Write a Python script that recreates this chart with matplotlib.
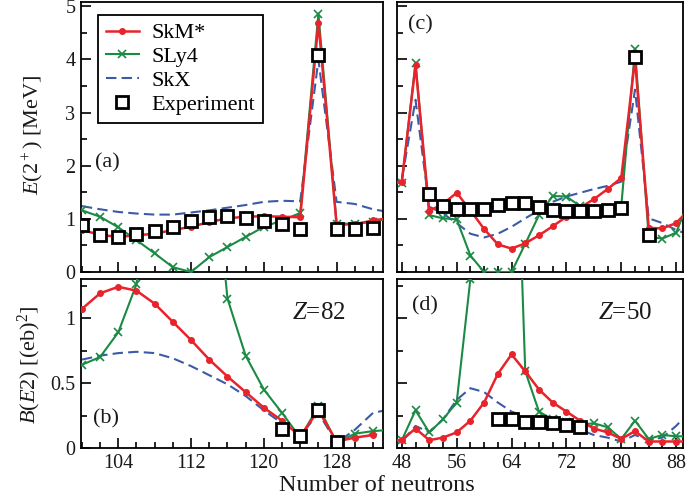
import numpy as np
import matplotlib
matplotlib.use("Agg")
import matplotlib.pyplot as plt
from matplotlib.ticker import MultipleLocator

plt.rcParams['font.family'] = ['Liberation Serif', 'DejaVu Serif']
plt.rcParams['mathtext.fontset'] = 'custom'
plt.rcParams['mathtext.rm'] = 'Liberation Serif'
plt.rcParams['mathtext.it'] = 'Liberation Serif:italic'

# ---- Z = 82 (lead) ----
n82 = np.arange(100, 136, 2)
e82_skm = [0.79, 0.70, 0.66, 0.69, 0.72, 0.79, 0.85, 0.94, 1.01, 1.04, 1.05, 1.04, 1.03, 4.69, 0.89, 0.90, 0.97, 1.02]
e82_sly = [1.16, 1.04, 0.84, 0.60, 0.35, 0.09, 0.00, 0.28, 0.47, 0.66, 0.85, 0.97, 1.11, 4.86, 0.91, 0.91, 0.94, 1.02]
e82_skx = [1.24, 1.18, 1.13, 1.10, 1.08, 1.08, 1.12, 1.16, 1.21, 1.26, 1.32, 1.34, 1.33, 3.99, 1.32, 1.28, 1.18, 1.12]
n82_exp = np.arange(100, 134, 2)
e82_exp = [0.88, 0.70, 0.65, 0.72, 0.77, 0.84, 0.96, 1.04, 1.05, 1.01, 0.96, 0.90, 0.80, 4.08, 0.80, 0.80, 0.83]

b82_skm = [1.07, 1.19, 1.24, 1.21, 1.11, 0.97, 0.83, 0.68, 0.55, 0.43, 0.31, 0.21, 0.09, 0.29, 0.05, 0.08, 0.10, np.nan]
b82_sly = [0.64, 0.70, 0.89, 1.26, 2.50, 3.50, 3.50, 2.60, 1.15, 0.71, 0.45, 0.27, 0.08, 0.32, 0.04, 0.11, 0.13, 0.14]
b82_skx = [0.68, 0.71, 0.73, 0.74, 0.73, 0.69, 0.63, 0.56, 0.49, 0.40, 0.29, 0.19, 0.09, 0.27, 0.04, 0.14, 0.27, 0.30]
n82_bexp = [122, 124, 126, 128]
b82_exp = [0.15, 0.09, 0.29, 0.05]

# ---- Z = 50 (tin) ----
n50 = np.arange(46, 92, 2)
e50_skm = [1.68, 1.70, 3.89, 1.15, 1.28, 1.49, 1.16, 0.81, 0.52, 0.44, 0.54, 0.69, 0.86, 1.04, 1.21, 1.37, 1.56, 1.77, 4.00, 0.83, 0.82, 0.92, 1.19]
e50_sly = [1.66, 1.68, 3.93, 1.07, 1.01, 0.99, 0.31, 0.00, 0.00, 0.00, 0.53, 1.07, 1.43, 1.42, 1.24, 1.18, 1.19, 1.24, 4.19, 0.66, 0.63, 0.74, 1.39]
e50_skx = [1.72, 1.74, 3.24, 1.23, 1.10, 0.92, 0.72, 0.65, 0.72, 0.85, 1.01, 1.16, 1.32, 1.42, 1.49, 1.56, 1.62, 1.70, 3.43, 1.01, 0.92, 0.79, 0.70]
n50_exp = np.arange(52, 86, 2)
e50_exp = [1.46, 1.25, 1.19, 1.19, 1.19, 1.26, 1.30, 1.30, 1.23, 1.16, 1.14, 1.14, 1.14, 1.16, 1.21, 4.04, 0.70]

b50_skm = [0.06, 0.06, 0.15, 0.06, 0.08, 0.12, 0.21, 0.35, 0.57, 0.72, 0.59, 0.45, 0.35, 0.28, 0.21, 0.15, 0.12, 0.07, 0.13, 0.05, 0.05, 0.05, 0.05]
b50_sly = [0.05, 0.06, 0.29, 0.12, 0.22, 0.35, 1.30, 3.50, 3.80, 3.70, 0.59, 0.28, 0.22, 0.20, 0.18, 0.19, 0.16, 0.07, 0.21, 0.07, 0.10, 0.09, 0.09]
b50_skx = [0.05, 0.05, 0.17, 0.12, 0.22, 0.37, 0.46, 0.43, 0.35, 0.28, 0.24, 0.22, 0.20, 0.17, 0.14, 0.10, 0.08, 0.05, 0.10, 0.06, 0.08, 0.17, 0.28]
n50_bexp = np.arange(62, 76, 2)
b50_exp = [0.22, 0.22, 0.20, 0.20, 0.19, 0.18, 0.16]

RED = '#e8232b'
GREEN = '#1b8a44'
BLUE = '#3d5aa8'
TXT = '#1a1a1a'

fig = plt.figure(figsize=(6.89, 5.04), dpi=100)
W, H = 689.0, 504.0
def add_ax(x0, y0, x1, y1):
    return fig.add_axes([x0 / W, 1 - y1 / H, (x1 - x0) / W, (y1 - y0) / H])

ax_a = add_ax(81, 2, 383, 272)
ax_c = add_ax(397, 2, 683, 272)
ax_b = add_ax(81, 279, 383, 448)
ax_d = add_ax(397, 279, 683, 448)


def draw(ax, n, skm, sly, skx, nexp, exp):
    ax.plot(n, skx, color=BLUE, lw=1.5, dashes=(5, 2.5), label='SkX', zorder=2)
    ax.plot(n, sly, color=GREEN, lw=1.5, marker='x', ms=6, mew=1.2, label='SLy4', zorder=3)
    ax.plot(n, skm, color=RED, lw=1.8, marker='o', ms=4, label='SkM*', zorder=4)
    ax.plot(nexp, exp, ls='none', marker='s', ms=8, mfc='white', mec='black', mew=2,
            label='Experiment', zorder=5)


draw(ax_a, n82, e82_skm, e82_sly, e82_skx, n82_exp, e82_exp)
draw(ax_b, n82, b82_skm, b82_sly, b82_skx, n82_bexp, b82_exp)
draw(ax_c, n50, e50_skm, e50_sly, e50_skx, n50_exp, e50_exp)
draw(ax_d, n50, b50_skm, b50_sly, b50_skx, n50_bexp, b50_exp)

for ax in (ax_a, ax_b):
    ax.set_xlim(99.9, 133.1)
    ax.xaxis.set_major_locator(MultipleLocator(8))
    ax.xaxis.set_minor_locator(MultipleLocator(2))
for ax in (ax_c, ax_d):
    ax.set_xlim(47.3, 89.0)
    ax.xaxis.set_major_locator(MultipleLocator(8))
    ax.xaxis.set_minor_locator(MultipleLocator(2))
for ax in (ax_a, ax_c):
    ax.set_ylim(0, 5.08)
    ax.yaxis.set_major_locator(MultipleLocator(1))
    ax.yaxis.set_minor_locator(MultipleLocator(0.5))
    ax.tick_params(labelbottom=False)
for ax in (ax_b, ax_d):
    ax.set_ylim(0, 1.3)
    ax.yaxis.set_major_locator(MultipleLocator(0.5))
    ax.yaxis.set_minor_locator(MultipleLocator(0.25))
ax_b.set_yticks([0, 0.5, 1])
ax_b.set_yticklabels(['0', '0.5', '1'])
for ax in (ax_c, ax_d):
    ax.tick_params(labelleft=False)

for ax in (ax_a, ax_b, ax_c, ax_d):
    ax.tick_params(which='both', direction='in', top=False, right=False,
                   width=1.2, labelsize=14.5, labelcolor=TXT, pad=4)
    ax.tick_params(which='major', length=7)
    ax.tick_params(which='minor', length=4)
    for s in ax.spines.values():
        s.set_linewidth(1.3)

# legend
h, l = ax_a.get_legend_handles_labels()
order = [2, 1, 0, 3]
leg = ax_a.legend([h[i] for i in order], [l[i] for i in order], loc='upper left',
                  bbox_to_anchor=(0.056, 0.952), borderaxespad=0, fontsize=16,
                  fancybox=False, framealpha=1, edgecolor='black', handlelength=1.5,
                  handletextpad=0.55, labelspacing=0.15, borderpad=0.35)
leg.get_frame().set_linewidth(1.3)

# panel labels
ax_a.text(0.046, 0.404, '(a)', transform=ax_a.transAxes, fontsize=16, va='center', color=TXT)
ax_b.text(0.040, 0.17, '(b)', transform=ax_b.transAxes, fontsize=16, va='center', color=TXT)
ax_c.text(0.038, 0.915, '(c)', transform=ax_c.transAxes, fontsize=16, va='center', color=TXT)
ax_d.text(0.052, 0.84, '(d)', transform=ax_d.transAxes, fontsize=16, va='center', color=TXT)
ax_b.text(0.70, 0.80, '$Z$=82', transform=ax_b.transAxes, fontsize=18, va='center', color=TXT)
ax_d.text(0.703, 0.80, '$Z$=50', transform=ax_d.transAxes, fontsize=18, va='center', color=TXT)

fig.text(0.048, 0.732, '$E$(2$^+$) [MeV]', rotation=90, ha='center', va='center',
         fontsize=16, color=TXT)
fig.text(0.042, 0.276, '$B$($E$2) [(eb)$^2$]', rotation=90, ha='center', va='center',
         fontsize=16, color=TXT)
fig.text(0.547, 0.036, 'Number of neutrons', ha='center', va='center', fontsize=17.5, color=TXT)

fig.savefig('out.png', dpi=100)
